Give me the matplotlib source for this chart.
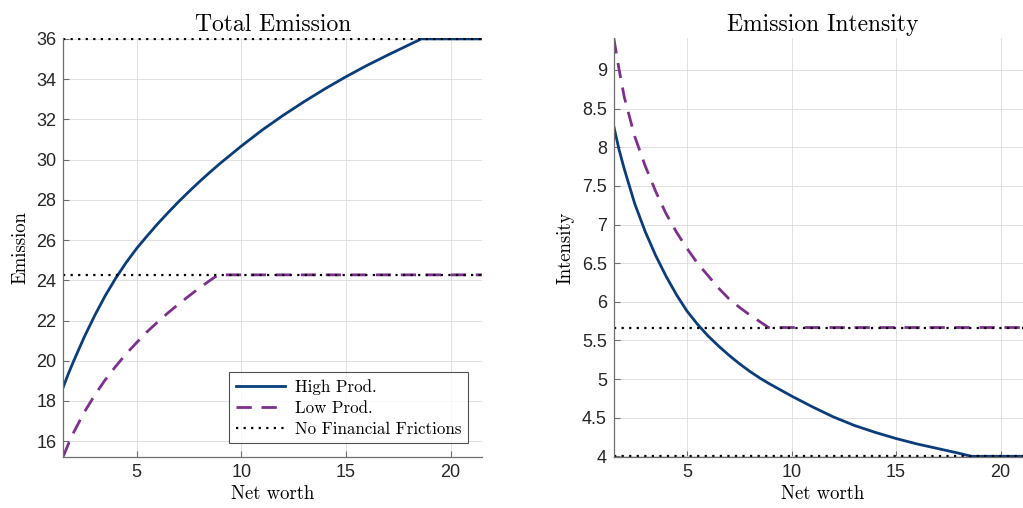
import matplotlib
matplotlib.use("Agg")
import matplotlib.pyplot as plt
from matplotlib.ticker import MultipleLocator, FuncFormatter

# ---------------- data ----------------
net_worth = [1.5, 1.75, 2, 2.5, 3, 3.5, 4, 4.5, 5, 5.5, 6, 6.5, 7, 7.5, 8, 8.5,
             8.9, 9, 10, 11, 12, 13, 14, 15, 16, 17, 18, 18.6, 21.5]

emission_high = [18.7, 19.38, 20.0, 21.18, 22.25, 23.23, 24.1, 24.88, 25.58,
                 26.2, 26.8, 27.36, 27.9, 28.41, 28.9, 29.37, 29.73, 29.82,
                 30.67, 31.47, 32.2, 32.88, 33.52, 34.12, 34.68, 35.2, 35.7,
                 36.0, 36.0]
emission_low = [15.25, 15.88, 16.45, 17.44, 18.29, 19.05, 19.72, 20.34, 20.9,
                21.44, 21.92, 22.38, 22.81, 23.22, 23.62, 23.99, 24.27, 24.27,
                24.27, 24.27, 24.27, 24.27, 24.27, 24.27, 24.27, 24.27, 24.27,
                24.27, 24.27]

intensity_high = [8.27, 7.97, 7.72, 7.27, 6.91, 6.6, 6.33, 6.09, 5.88, 5.71,
                  5.56, 5.43, 5.31, 5.2, 5.1, 5.01, 4.945, 4.93, 4.78, 4.64,
                  4.51, 4.4, 4.31, 4.23, 4.16, 4.1, 4.04, 4.0, 4.0]
intensity_low = [9.41, 9.01, 8.65, 8.14, 7.76, 7.43, 7.14, 6.9, 6.69, 6.5,
                 6.34, 6.18, 6.04, 5.93, 5.83, 5.74, 5.667, 5.667, 5.667,
                 5.667, 5.667, 5.667, 5.667, 5.667, 5.667, 5.667, 5.667,
                 5.667, 5.667]

nf_emission = [36.0, 24.27]        # no financial frictions levels (high, low)
nf_intensity = [4.0, 5.667]

x_ticks = [5, 10, 15, 20]
titles = ["Total Emission", "Emission Intensity"]
ylabels = ["Emission", "Intensity"]
xlabel = "Net worth"
legend_labels = ["High Prod.", "Low Prod.", "No Financial Frictions"]

# ---------------- styling ----------------
BLUE = "#0b3d7a"
PURPLE = "#7e2f8e"
SERIF = "cmr10"
SANS = "Liberation Sans"
TICKC = "#262626"

fig = plt.figure(figsize=(10.23, 5.08), dpi=100)
ax1 = fig.add_axes([0.0619, 0.101, 0.4093, 0.8236])
ax2 = fig.add_axes([0.6000, 0.101, 0.4088, 0.8236])


def style(ax, ylim, ystep, title, ylabel):
    ax.set_xlim(1.5, 21.5)
    ax.set_ylim(*ylim)
    ax.set_xticks(x_ticks)
    ax.yaxis.set_major_locator(MultipleLocator(ystep))
    ax.yaxis.set_major_formatter(FuncFormatter(lambda v, p: f"{v:g}"))
    ax.grid(True, color="#dcdcdc", lw=0.6)
    ax.set_axisbelow(True)
    for s in ("top", "right"):
        ax.spines[s].set_visible(False)
    for s in ("left", "bottom"):
        ax.spines[s].set_color("#6e6e6e")
        ax.spines[s].set_linewidth(0.9)
    ax.tick_params(direction="in", length=4, width=0.8, color="#6e6e6e",
                   labelcolor=TICKC, labelsize=13, pad=5)
    for lab in ax.get_xticklabels() + ax.get_yticklabels():
        lab.set_family(SANS)
    ax.set_title(title, family=SERIF, fontsize=17, pad=5)
    ax.set_xlabel(xlabel, family=SERIF, fontsize=13.5, labelpad=3)
    ax.set_ylabel(ylabel, family=SERIF, fontsize=13.5, labelpad=5)


dots = (0, (1, 2.4))
dash = (0, (5.5, 3.5))

h1, = ax1.plot(net_worth, emission_high, color=BLUE, lw=2.0)
h2, = ax1.plot(net_worth, emission_low, color=PURPLE, lw=2.0, linestyle=dash)
for lvl in nf_emission:
    h3 = ax1.axhline(lvl, color="black", lw=1.6, linestyle=dots)
style(ax1, (15.23, 36.03), 2, titles[0], ylabels[0])

ax2.plot(net_worth, intensity_high, color=BLUE, lw=2.0)
ax2.plot(net_worth, intensity_low, color=PURPLE, lw=2.0, linestyle=dash)
for lvl in nf_intensity:
    ax2.axhline(lvl, color="black", lw=1.6, linestyle=dots)
style(ax2, (3.995, 9.41), 0.5, titles[1], ylabels[1])

leg = ax1.legend([h1, h2, h3], legend_labels, loc="lower right",
                 bbox_to_anchor=(0.967, 0.032), borderaxespad=0,
                 prop={"family": SERIF, "size": 12.2}, frameon=True,
                 fancybox=False, edgecolor="#262626", handlelength=2.9,
                 handletextpad=0.6, labelspacing=0.33, borderpad=0.4)
leg.get_frame().set_linewidth(0.8)

fig.savefig("out.png", dpi=100)
